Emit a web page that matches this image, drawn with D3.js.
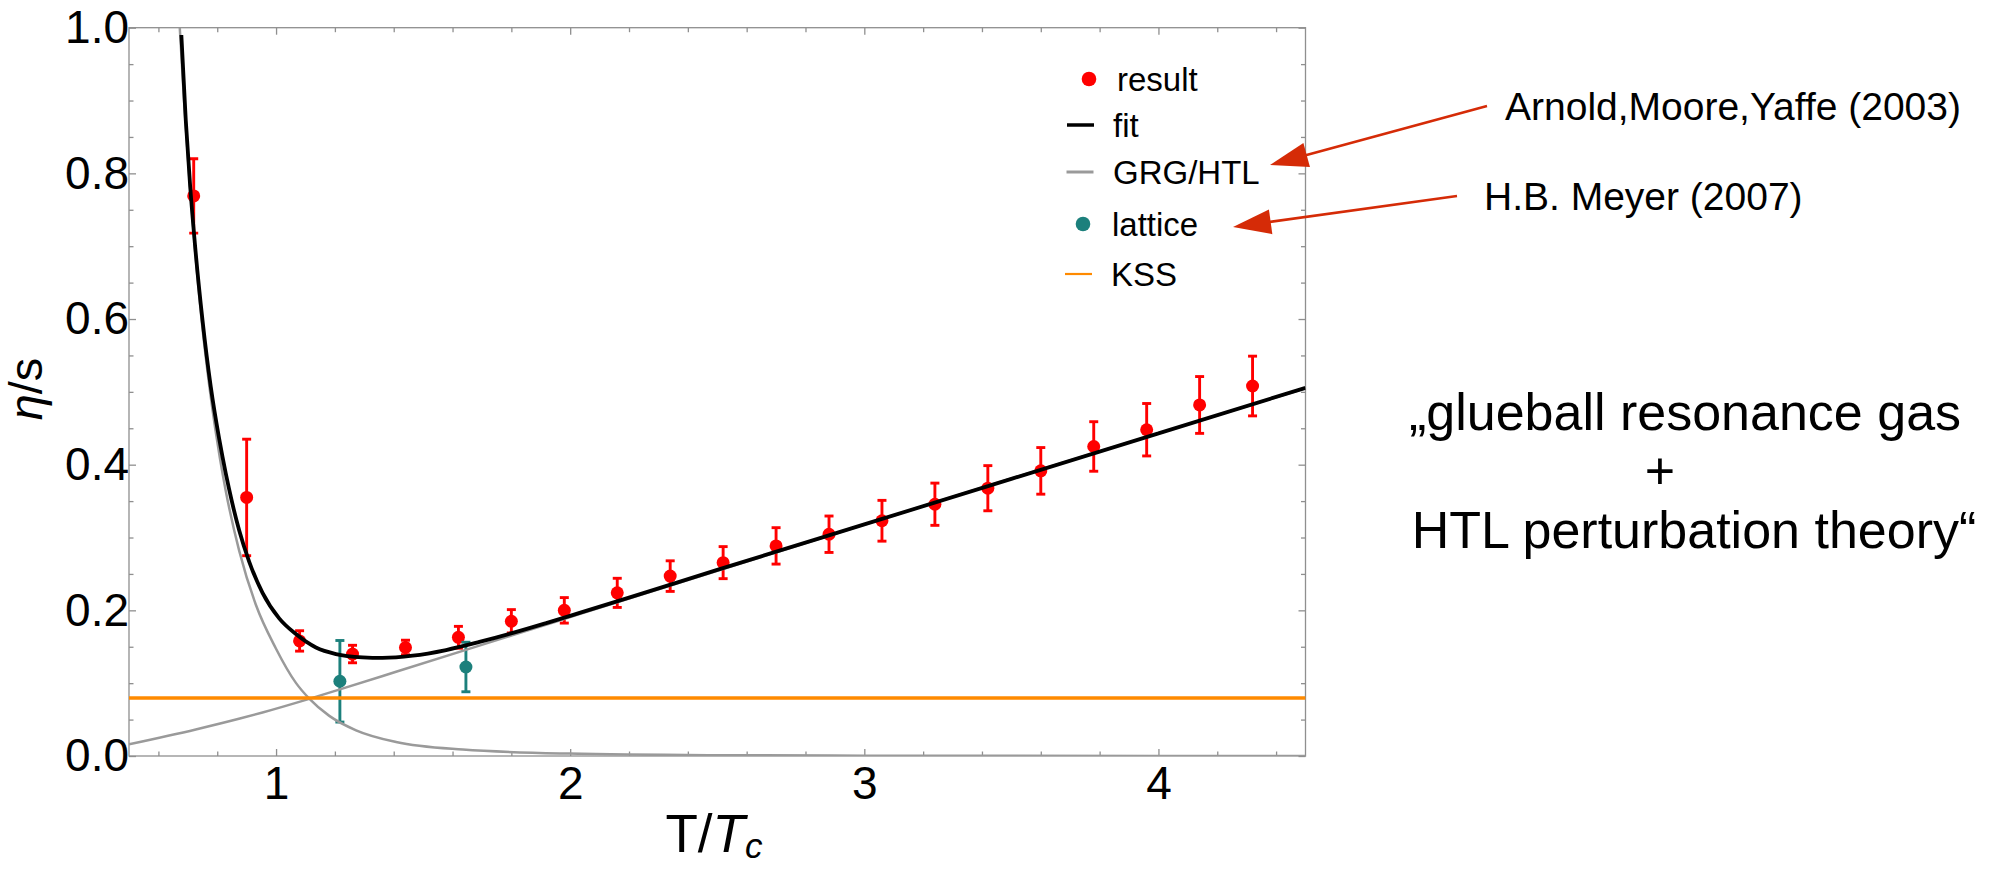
<!DOCTYPE html>
<html>
<head>
<meta charset="utf-8">
<script src="https://cdn.jsdelivr.net/npm/d3@7"></script>
<style>
html, body { margin: 0; padding: 0; background: #fff; }
svg { display: block; font-family: "Liberation Sans", Arial, sans-serif; }
</style>
</head>
<body>
<svg id="chart" width="1999" height="869"></svg>
<script>
// ---------------- data ----------------
const resultT   = [0.72, 0.90, 1.08, 1.26, 1.44, 1.62, 1.80, 1.98, 2.16, 2.34, 2.52,
                   2.70, 2.88, 3.06, 3.24, 3.42, 3.60, 3.78, 3.96, 4.14, 4.32];
const resultEta = [0.769, 0.355, 0.158, 0.140, 0.149, 0.163, 0.185, 0.200, 0.224, 0.247, 0.2655,
                   0.2885, 0.3045, 0.323, 0.3457, 0.3677, 0.3915, 0.425, 0.448, 0.482, 0.508];
const resultErr = [0.051, 0.080, 0.014, 0.012, 0.010, 0.015, 0.016, 0.0175, 0.020, 0.021, 0.022,
                   0.025, 0.025, 0.028, 0.029, 0.031, 0.032, 0.034, 0.036, 0.039, 0.041];

const latticeT   = [1.217, 1.6455];
const latticeEta = [0.1026, 0.1222];
const latticeErr = [0.056, 0.034];

const fitT   = [0.678, 0.693, 0.708, 0.727, 0.750, 0.778, 0.806, 0.8176, 0.840, 0.8745, 0.9085,
                0.954, 1.0106, 1.0675, 1.1356, 1.2037, 1.294, 1.362, 1.4645, 1.578, 1.6915,
                1.805, 1.9185, 2.032, 2.2, 2.5, 3.0, 3.5, 4.0, 4.5];
const fitEta = [0.990, 0.873, 0.782, 0.690, 0.598, 0.507, 0.437, 0.4115, 0.367, 0.310, 0.267,
                0.224, 0.189, 0.1674, 0.149, 0.140, 0.1355, 0.1347, 0.1377, 0.1455, 0.1566,
                0.169, 0.1825, 0.1965, 0.2175, 0.2555, 0.318, 0.3805, 0.443, 0.5055];

const grgT   = [0.6726, 0.687, 0.705, 0.725, 0.747, 0.774, 0.793, 0.809, 0.829, 0.8745, 0.931,
                0.999, 1.0675, 1.1128, 1.181, 1.272, 1.408, 1.635, 1.998, 2.5, 3.0, 3.5, 4.5];
const grgEta = [1.0, 0.900, 0.794, 0.692, 0.598, 0.505, 0.450, 0.409, 0.364, 0.282, 0.208,
                0.148, 0.1004, 0.0788, 0.0551, 0.0353, 0.0192, 0.0088, 0.0033, 0.0011, 0.0005, 0.0002, 0.0001];

const htlT   = [0.5, 0.727, 0.877, 0.954, 1.1128, 1.217, 1.408, 1.648, 1.805, 2.032, 2.5, 3.0, 3.5, 4.0, 4.5];
const htlEta = [0.0161, 0.0365, 0.0515, 0.0598, 0.0785, 0.0915, 0.1156, 0.146, 0.166, 0.1948,
                0.2542, 0.3177, 0.381, 0.443, 0.505];

const kssT   = [0.5, 4.5];
const kssEta = [0.0796, 0.0796];

const xTickValues = [1, 2, 3, 4];
const xTickLabels = ["1", "2", "3", "4"];
const yTickValues = [0, 0.2, 0.4, 0.6, 0.8, 1.0];
const yTickLabels = ["0.0", "0.2", "0.4", "0.6", "0.8", "1.0"];

const legendLabels = ["result", "fit", "GRG/HTL", "lattice", "KSS"];
const legendKinds  = ["dot", "line", "line", "dot", "line"];
const legendColors = ["#ff0000", "#000000", "#9a9a9a", "#1c807c", "#ff8a00"];

const annotationTexts = ["Arnold,Moore,Yaffe (2003)", "H.B. Meyer (2007)"];
const noteLines = ["\u201eglueball resonance gas", "+", "HTL perturbation theory\u201c"];

// ---------------- layout ----------------
const plot = { left: 129, right: 1305.5, top: 27.7, bottom: 756 };
const C = { red: "#ff0000", teal: "#1c807c", gray: "#9a9a9a", orange: "#ff8a00",
            frame: "#8f8f8f", arrow: "#d52b07" };

const svg = d3.select("#chart");
const x = d3.scaleLinear().domain([0.5, 4.5]).range([plot.left, plot.right]);
const y = d3.scaleLinear().domain([0, 1]).range([plot.bottom, plot.top]);

svg.append("defs").append("clipPath").attr("id", "clip")
  .append("rect").attr("x", plot.left).attr("y", plot.top)
  .attr("width", plot.right - plot.left).attr("height", plot.bottom - plot.top);

// ---------------- axes / frame ----------------
const xMinor = d3.range(0.6, 4.45, 0.2).filter(v => Math.abs(v - Math.round(v)) > 1e-6);
const yMinor = d3.range(0.05, 0.99, 0.05).filter(v => Math.abs(v / 0.2 - Math.round(v / 0.2)) > 1e-6);

function styleAxis(g) {
  g.select(".domain").remove();
  g.selectAll(".tick line").attr("stroke", C.frame).attr("stroke-width", 1.3);
  g.selectAll(".tick text").attr("fill", "#000").attr("font-size", 46)
    .attr("font-family", "'Liberation Sans', Arial, sans-serif");
}

svg.append("g").attr("transform", `translate(0,${plot.bottom})`)
  .call(d3.axisBottom(x).tickValues(xTickValues).tickSize(-7).tickPadding(10)
        .tickFormat((d, i) => xTickLabels[i]))
  .call(styleAxis);
svg.append("g").attr("transform", `translate(0,${plot.bottom})`)
  .call(d3.axisBottom(x).tickValues(xMinor).tickSize(-4.5).tickFormat(""))
  .call(styleAxis);
svg.append("g").attr("transform", `translate(0,${plot.top})`)
  .call(d3.axisTop(x).tickValues(xTickValues).tickSize(-7).tickFormat(""))
  .call(styleAxis);
svg.append("g").attr("transform", `translate(0,${plot.top})`)
  .call(d3.axisTop(x).tickValues(xMinor).tickSize(-4.5).tickFormat(""))
  .call(styleAxis);
svg.append("g").attr("transform", `translate(${plot.left},0)`)
  .call(d3.axisLeft(y).tickValues(yTickValues).tickSize(-7).tickPadding(0)
        .tickFormat((d, i) => yTickLabels[i]))
  .call(styleAxis);
svg.append("g").attr("transform", `translate(${plot.left},0)`)
  .call(d3.axisLeft(y).tickValues(yMinor).tickSize(-4.5).tickFormat(""))
  .call(styleAxis);
svg.append("g").attr("transform", `translate(${plot.right},0)`)
  .call(d3.axisRight(y).tickValues(yTickValues).tickSize(-7).tickFormat(""))
  .call(styleAxis);
svg.append("g").attr("transform", `translate(${plot.right},0)`)
  .call(d3.axisRight(y).tickValues(yMinor).tickSize(-4.5).tickFormat(""))
  .call(styleAxis);

svg.append("rect").attr("x", plot.left).attr("y", plot.top)
  .attr("width", plot.right - plot.left).attr("height", plot.bottom - plot.top)
  .attr("fill", "none").attr("stroke", C.frame).attr("stroke-width", 1.3);

// axis titles
const xt = svg.append("text").attr("x", 714).attr("y", 852).attr("text-anchor", "middle")
  .attr("font-size", 53).attr("fill", "#000");
xt.append("tspan").text("T/");
xt.append("tspan").attr("font-style", "italic").text("T");
xt.append("tspan").attr("font-style", "italic").attr("font-size", 35).attr("dy", 6).text("c");

const yt = svg.append("text").attr("transform", "translate(42,389) rotate(-90)")
  .attr("text-anchor", "middle").attr("font-size", 47).attr("fill", "#000");
yt.append("tspan").attr("font-style", "italic").text("\u03b7");
yt.append("tspan").text("/s");

// ---------------- data marks ----------------
const marks = svg.append("g").attr("clip-path", "url(#clip)");

function errorPoints(T, V, E, color) {
  const g = marks.append("g");
  const idx = d3.range(T.length);
  g.selectAll("line.bar").data(idx).join("line").attr("class", "bar")
    .attr("x1", i => x(T[i])).attr("x2", i => x(T[i]))
    .attr("y1", i => y(V[i] - E[i])).attr("y2", i => y(V[i] + E[i]))
    .attr("stroke", color).attr("stroke-width", 2.9);
  ["top", "bot"].forEach(k => {
    g.selectAll("line.cap" + k).data(idx).join("line").attr("class", "cap" + k)
      .attr("x1", i => x(T[i]) - 4.5).attr("x2", i => x(T[i]) + 4.5)
      .attr("y1", i => y(k === "top" ? V[i] + E[i] : V[i] - E[i]))
      .attr("y2", i => y(k === "top" ? V[i] + E[i] : V[i] - E[i]))
      .attr("stroke", color).attr("stroke-width", 2.9);
  });
  g.selectAll("circle").data(idx).join("circle")
    .attr("cx", i => x(T[i])).attr("cy", i => y(V[i])).attr("r", 6.5).attr("fill", color);
}
errorPoints(resultT, resultEta, resultErr, C.red);
errorPoints(latticeT, latticeEta, latticeErr, C.teal);

function curve(T, V, color, width) {
  const line = d3.line().x(i => x(T[i])).y(i => y(V[i])).curve(d3.curveMonotoneX);
  marks.append("path").attr("d", line(d3.range(T.length)))
    .attr("fill", "none").attr("stroke", color).attr("stroke-width", width)
    .attr("stroke-linejoin", "round");
}
curve(grgT, grgEta, C.gray, 2.5);
curve(htlT, htlEta, C.gray, 2.5);
curve(fitT, fitEta, "#000", 3.8);
curve(kssT, kssEta, C.orange, 3.5);

// ---------------- legend ----------------
const legRowY  = [79, 125, 172, 224, 274];
const legTextX = [1117, 1113, 1113, 1112, 1111];
const legMarkX = [1089, 1080.5, 1080, 1083, 1078.5];
const legLineW = [0, 3.5, 3, 0, 2.2];
const leg = svg.append("g");
legendLabels.forEach((lab, i) => {
  if (legendKinds[i] === "dot") {
    leg.append("circle").attr("cx", legMarkX[i]).attr("cy", legRowY[i]).attr("r", 7.3)
      .attr("fill", legendColors[i]);
  } else {
    leg.append("line").attr("x1", legMarkX[i] - 13.5).attr("x2", legMarkX[i] + 13.5)
      .attr("y1", legRowY[i]).attr("y2", legRowY[i])
      .attr("stroke", legendColors[i]).attr("stroke-width", legLineW[i]);
  }
  leg.append("text").attr("x", legTextX[i]).attr("y", legRowY[i]).attr("dy", "0.36em")
    .attr("font-size", 33).attr("fill", "#000").text(lab);
});

// ---------------- annotations ----------------
const annX = [1505, 1484];
const annY = [120, 210];
annotationTexts.forEach((t, i) => {
  svg.append("text").attr("x", annX[i]).attr("y", annY[i]).attr("font-size", 39)
    .attr("fill", "#000").text(t);
});

const arrows = [
  { from: [1487, 106], to: [1270, 165] },
  { from: [1457, 196], to: [1233, 227] }
];
arrows.forEach(a => {
  const dx = a.from[0] - a.to[0], dy = a.from[1] - a.to[1];
  const L = Math.hypot(dx, dy), ux = dx / L, uy = dy / L;
  const hl = 38, hw = 12.5;
  const bx = a.to[0] + ux * hl, by = a.to[1] + uy * hl;
  svg.append("line").attr("x1", a.from[0]).attr("y1", a.from[1])
    .attr("x2", bx - ux * 2).attr("y2", by - uy * 2)
    .attr("stroke", C.arrow).attr("stroke-width", 2.6);
  svg.append("path")
    .attr("d", `M${a.to[0]},${a.to[1]}L${bx - uy * hw},${by + ux * hw}L${bx + uy * hw},${by - ux * hw}Z`)
    .attr("fill", C.arrow);
});

const noteX = [1685, 1660, 1694];
const noteY = [430, 489, 548];
noteLines.forEach((t, i) => {
  svg.append("text").attr("x", noteX[i]).attr("y", noteY[i]).attr("text-anchor", "middle")
    .attr("font-size", 52).attr("fill", "#000").text(t);
});
</script>
</body>
</html>
